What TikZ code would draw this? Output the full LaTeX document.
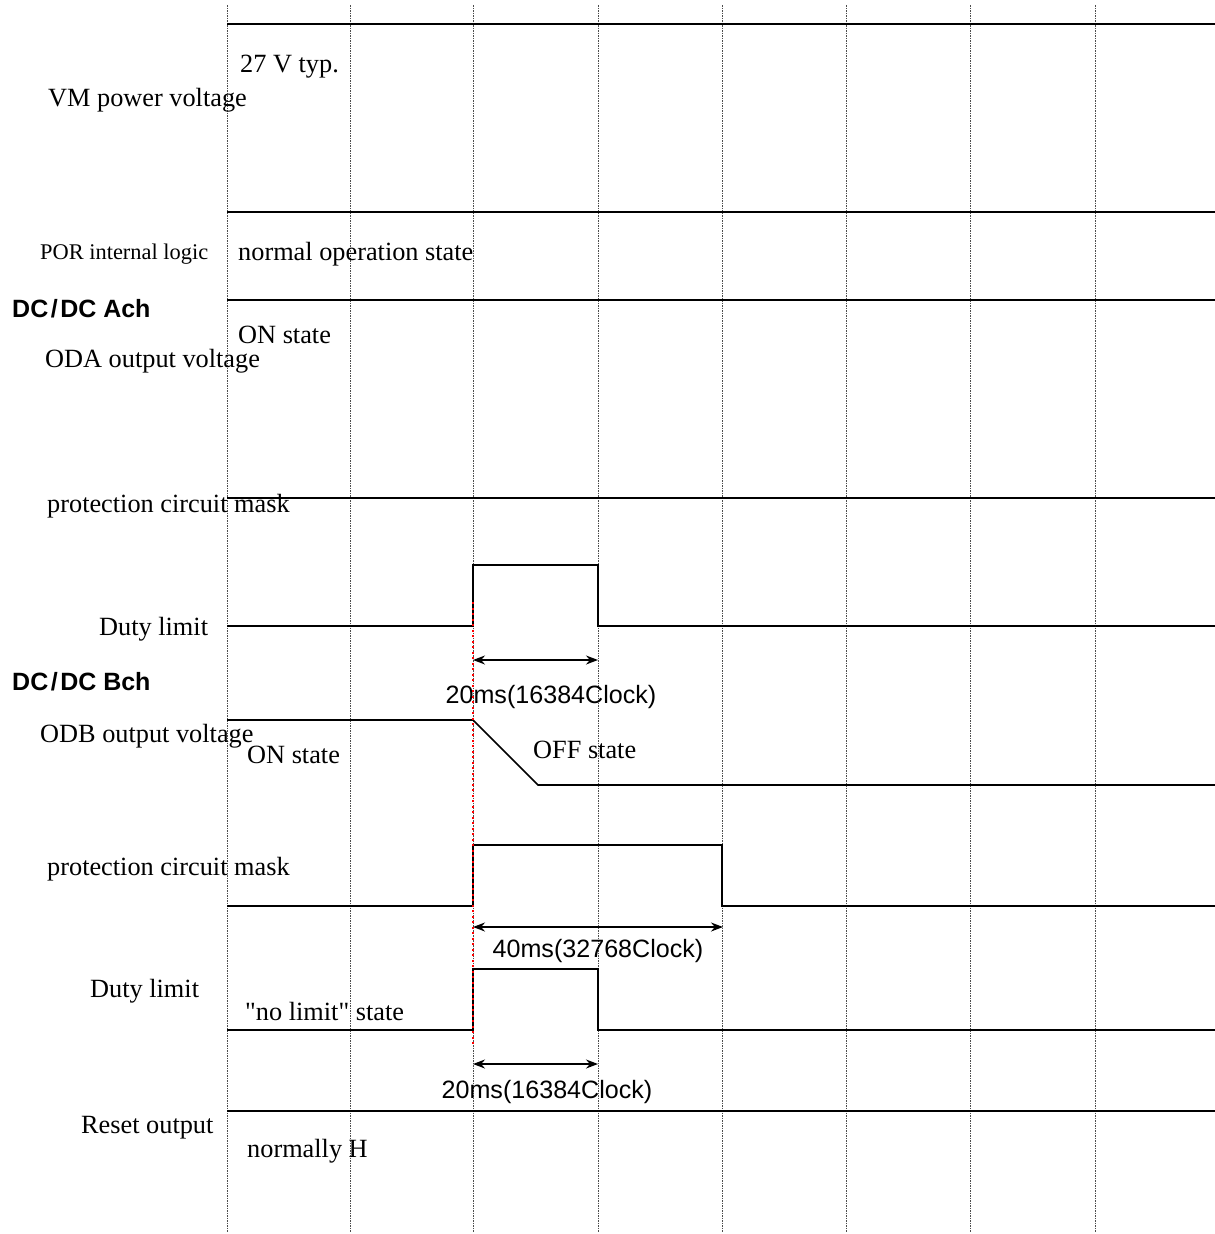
\documentclass[tikz,border=0pt]{standalone}
\usepackage{fontspec}
\setmainfont{Liberation Serif}
\newfontfamily\plainserif{Liberation Serif}
\newfontfamily\arialfont{Liberation Sans}
\usepackage{tikz}
\usetikzlibrary{arrows.meta,positioning,calc}

\tikzset{
  sig/.style={line width=1.6pt, black},
  gridln/.style={gray!60!black, line width=0.8pt, dash pattern=on 1.5pt off 1pt},
  marker/.style={red, line width=2.2pt, dash pattern=on 2pt off 3.5pt},
  lbl/.style={anchor=base west, inner sep=0pt, font=\fontsize{26.3}{30}\selectfont},
  smalllbl/.style={anchor=base west, inner sep=0pt, font=\fontsize{22.4}{26}\selectfont},
  chlbl/.style={anchor=base west, inner sep=0pt, font=\arialfont\bfseries\fontsize{25}{28}\selectfont},
  timelbl/.style={anchor=base, inner sep=0pt, font=\arialfont\fontsize{25.1}{28}\selectfont},
  dim/.style={line width=1.5pt, {Stealth[length=12pt,width=9pt]}-{Stealth[length=12pt,width=9pt]}}
}
\newcommand{\chslash}{\hspace{2.5pt}/\hspace{2.5pt}}
\newcommand{\dq}{{\plainserif"}}

\begin{document}
\begin{tikzpicture}[x=1pt, y=-1pt]
  \useasboundingbox (0,0) rectangle (1215,1234);

  % Time grid
  \foreach \gx in {227,350,473,598,722,846,970,1095}
    \draw[gridln] (\gx,5) -- (\gx,1232);

  % VM power voltage
  \draw[sig] (227,24) -- (1215,24);
  \node[lbl] (vmval) at (240,72) {27 V typ.};
  \node[lbl] (vm) at (48,106) {VM power voltage};

  % POR internal logic
  \draw[sig] (227,212) -- (1215,212);
  \node[smalllbl] (por) at (40,259) {POR internal logic};
  \node[lbl] (porst) at (238,260) {normal operation state};

  % DC/DC Ach
  \node[chlbl] (cha) at (12,317) {DC\chslash DC Ach};
  \draw[sig] (227,300) -- (1215,300);
  \node[lbl] (odast) at (238,343) {ON state};
  \node[lbl] (oda) at (45,367) {ODA output voltage};

  \draw[sig] (227,498) -- (1215,498);
  \node[lbl] (maska) at (47,512) {protection circuit mask};

  \draw[sig] (227,626) -- (473,626) -- (473,565) -- (598,565) -- (598,626) -- (1215,626);
  \node[lbl] (dutya) at (99,635) {Duty limit};
  \coordinate (a1) at (473,660);
  \coordinate (a2) at (598,660);
  \draw[dim] (a1) -- (a2);
  \node[timelbl] (ta) at (551,703) {20ms(16384Clock)};

  % DC/DC Bch
  \node[chlbl] (chb) at (12,690) {DC\chslash DC Bch};
  \draw[sig] (227,720) -- (473,720) -- (538,785) -- (1215,785);
  \node[lbl] (odb) at (40,742) {ODB output voltage};
  \node[lbl] (odbon) at (247,763) {ON state};
  \node[lbl] (odboff) at (533,758) {OFF state};

  \draw[sig] (227,906) -- (473,906) -- (473,845) -- (722,845) -- (722,906) -- (1215,906);
  \node[lbl] (maskb) at (47,875) {protection circuit mask};
  \coordinate (b1) at (473,927);
  \coordinate (b2) at (723,927);
  \draw[dim] (b1) -- (b2);
  \node[timelbl] (tb) at (598,957) {40ms(32768Clock)};

  \draw[sig] (227,1030) -- (473,1030) -- (473,969) -- (598,969) -- (598,1030) -- (1215,1030);
  \node[lbl] (dutyb) at (90,997) {Duty limit};
  \node[lbl] (dutybst) at (245,1020) {\dq no limit\dq\ state};
  \coordinate (c1) at (473,1064);
  \coordinate (c2) at (598,1064);
  \draw[dim] (c1) -- (c2);
  \node[timelbl] (tc) at (547,1098) {20ms(16384Clock)};

  % Reset output
  \draw[sig] (227,1111) -- (1215,1111);
  \node[lbl] (rst) at (81,1133) {Reset output};
  \node[lbl] (rstst) at (247,1157) {normally H};

  % trigger marker
  \draw[marker] (473,602) -- (473,1045);
\end{tikzpicture}
\end{document}
